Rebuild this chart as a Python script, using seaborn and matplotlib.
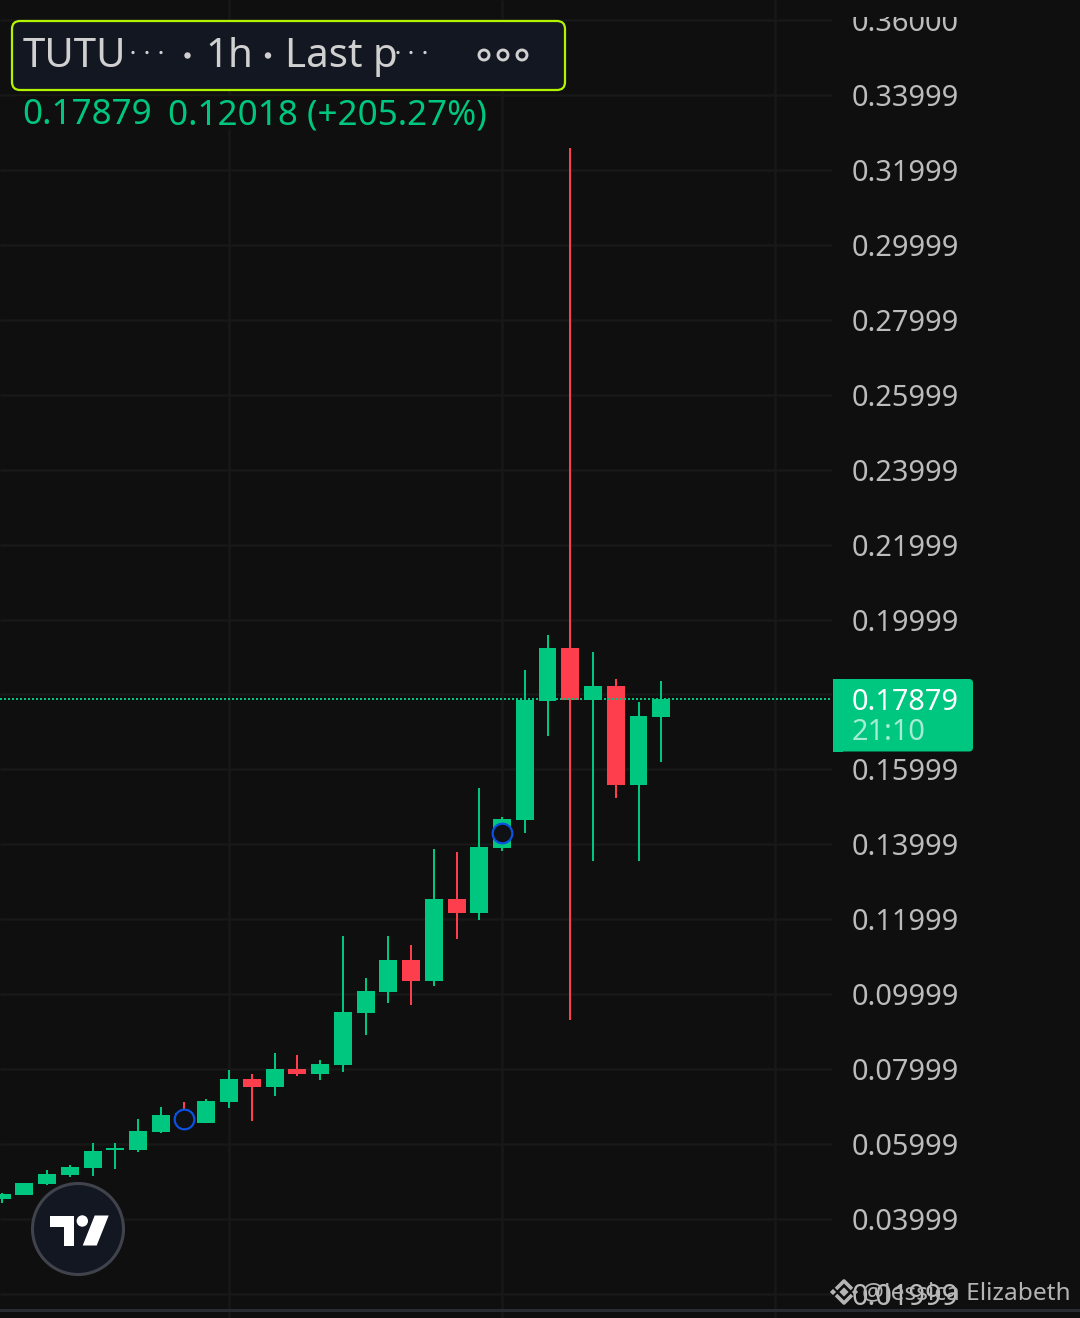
import pandas as pd
import matplotlib.pyplot as plt
import seaborn as sns
from matplotlib.patches import Circle, FancyBboxPatch, Polygon, Rectangle

# Candle values
opens = [0.04533, 0.04640, 0.04933, 0.05173, 0.05360, 0.05841, 0.05841, 0.06321, 0.06828, 0.06561,
         0.07122, 0.07736, 0.07522, 0.08003, 0.07869, 0.08109, 0.09497, 0.10058, 0.10912, 0.10351,
         0.12540, 0.12166, 0.13901, 0.14648, 0.17824, 0.19239, 0.17851, 0.18225, 0.15582, 0.17397]
closes = [0.04666, 0.04960, 0.05200, 0.05387, 0.05814, 0.05894, 0.06348, 0.06775, 0.06508, 0.07148,
          0.07736, 0.07522, 0.08003, 0.07869, 0.08136, 0.09524, 0.10084, 0.10912, 0.10351, 0.12540,
          0.12166, 0.13928, 0.14675, 0.17851, 0.19239, 0.17851, 0.18225, 0.15582, 0.17424, 0.17879]
highs = [0.04693, 0.04960, 0.05307, 0.05440, 0.06027, 0.06027, 0.06668, 0.06988, 0.07122, 0.07202,
         0.07976, 0.07869, 0.08430, 0.08376, 0.08243, 0.11552, 0.10431, 0.11552, 0.11312, 0.13874,
         0.13794, 0.15502, 0.14728, 0.18652, 0.19586, 0.32584, 0.19132, 0.18412, 0.17798, 0.18358]
lows = [0.04426, 0.04640, 0.04906, 0.05120, 0.05147, 0.05334, 0.05787, 0.06294, 0.06500, 0.06561,
        0.06962, 0.06615, 0.07282, 0.07816, 0.07709, 0.07922, 0.08910, 0.09764, 0.09711, 0.10218,
        0.11472, 0.11979, 0.13821, 0.14301, 0.16890, 0.09310, 0.13554, 0.15235, 0.13554, 0.16196]

y_ticks = [0.01999, 0.03999, 0.05999, 0.07999, 0.09999, 0.11999, 0.13999, 0.15999, 0.17999, 0.19999,
           0.21999, 0.23999, 0.25999, 0.27999, 0.29999, 0.31999, 0.33999, 0.36000]
y_labels = ['0.01999', '0.03999', '0.05999', '0.07999', '0.09999', '0.11999', '0.13999', '0.15999', '',
            '0.19999', '0.21999', '0.23999', '0.25999', '0.27999', '0.29999', '0.31999', '0.33999', '0.36000']
x_grid = [10, 22, 34]
marker_idx = [8, 22]
marker_price = [0.06668, 0.14301]
last_price = 0.17879

BG = '#0f0f0f'
GRID = '#181818'
GREEN = '#00c77f'
RED = '#ff3e4d'
TXT = '#bcbcbc'
HEAD = '#d0d0d0'

sns.set_theme(style="dark", rc={'figure.facecolor': BG, 'axes.facecolor': BG})
plt.rcParams['font.family'] = ['Noto Sans', 'DejaVu Sans']

df = pd.DataFrame({'idx': range(len(opens)), 'open': opens, 'close': closes, 'high': highs, 'low': lows})
df['bottom'] = df[['open', 'close']].min(axis=1)
df['height'] = (df['close'] - df['open']).abs()
df['up'] = df['close'] >= df['open']

fig = plt.figure(figsize=(10.8, 13.18), dpi=100)
ax = fig.add_axes([0, 0, 832 / 1080, 1])

for up, color in [(True, GREEN), (False, RED)]:
    sub = df[df['up'] == up]
    ax.vlines(sub['idx'], sub['low'], sub['high'], color=color, lw=1.44, zorder=2)
    # seaborn scales bar width by the smallest gap between positions
    gap = sub['idx'].diff().min()
    sns.barplot(data=sub, x='idx', y='height', bottom=sub['bottom'].values, native_scale=True,
                width=(18 / 22.75) / gap, color=color, saturation=1, errorbar=None,
                linewidth=0, zorder=3, ax=ax)

# 22.75 px per candle, first candle centred at x=1.5 px
ax.set_xlim(-1.5 / 22.75, (832 - 1.5) / 22.75)
ax.set_ylim(0.03999 - 99 / 3746.7, 0.03999 + 1219 / 3746.7)
ax.set_xlabel('')
ax.set_ylabel('')
ax.set_xticks([])

ax.hlines(y_ticks, *ax.get_xlim(), color=GRID, lw=1.8, zorder=1)
ax.vlines(x_grid, *ax.get_ylim(), color=GRID, lw=1.8, zorder=1)
ax.axhline(last_price, color=GREEN, lw=1.44, ls=(0, (1, 1)), zorder=4)

ax.scatter(marker_idx, marker_price, s=200, facecolor='#0f1115', edgecolor='#0a52e0', linewidth=1.6, zorder=5)

ax.yaxis.tick_right()
ax.set_yticks(y_ticks)
ax.set_yticklabels(y_labels, fontsize=20.8, color=TXT)
ax.tick_params(axis='y', length=0, pad=14)
for s in ax.spines.values():
    s.set_visible(False)

# Overlay in pixel coordinates for the header, tag, logo and watermark
ov = fig.add_axes([0, 0, 1, 1], facecolor='none')
ov.set_xlim(0, 1080)
ov.set_ylim(1318, 0)
ov.axis('off')

ov.add_patch(Rectangle((834, 0), 246, 17, color=BG, lw=0))
ov.add_patch(Rectangle((0, 1308.5), 1080, 3, color='#2a2c31', lw=0))

# header box
ov.add_patch(FancyBboxPatch((12, 21), 553, 69, boxstyle='round,pad=0,rounding_size=8',
                            fc='#131722', ec='#b2f400', lw=1.6))
ov.text(23, 57, 'TUTU', fontsize=29, color=HEAD, va='center')
ov.text(205, 57, '1h', fontsize=29, color=HEAD, va='center')
ov.text(285, 57, 'Last p', fontsize=29, color=HEAD, va='center')
for cx in [133, 147, 161, 398, 411, 425]:
    ov.add_patch(Circle((cx, 52.5), 1.6, fc=HEAD, ec='none'))
for cx in [187.5, 268]:
    ov.add_patch(Circle((cx, 55.5), 3.2, fc=HEAD, ec='none'))
for cx in [484, 503, 522]:
    ov.add_patch(Circle((cx, 55), 5, fc='none', ec=HEAD, lw=2.1))

ov.add_patch(Rectangle((15, 96), 485, 34, color=BG, alpha=0.7, lw=0))
ov.text(22, 115, '0.17879', fontsize=25.2, color=GREEN, va='center')
ov.text(168, 115, '0.12018 (+205.27%)', fontsize=25.2, color=GREEN, va='center')

# last price tag
ov.add_patch(FancyBboxPatch((833, 679), 140, 72.5, boxstyle='round,pad=0,rounding_size=4', fc=GREEN, ec='none'))
ov.add_patch(Rectangle((833, 679), 10, 72.5, color=GREEN, lw=0))
ov.text(852, 702, '0.17879', fontsize=20.8, color='white', va='center')
ov.text(852, 733, '21:10', fontsize=20.8, color='#a5ecd2', va='center')

# TradingView badge
ov.add_patch(Circle((78, 1229), 45.5, fc='#131722', ec='#40434b', lw=2.2))
ov.add_patch(Polygon([(50, 1215.5), (74, 1215.5), (74, 1245.5), (64, 1245.5), (64, 1226.5), (50, 1226.5)],
                     fc='white', ec='none'))
ov.add_patch(Circle((82.3, 1221), 5.7, fc='white', ec='none'))
ov.add_patch(Polygon([(94.7, 1215.5), (108.7, 1215.5), (96.7, 1245.5), (82.7, 1245.5)], fc='white', ec='none'))

# Watermark
wm = '#b4b4b4'
ov.plot([836, 844, 852], [1289, 1281, 1289], color=wm, lw=2.6, solid_capstyle='butt')
ov.plot([836, 844, 852], [1295, 1303, 1295], color=wm, lw=2.6, solid_capstyle='butt')
ov.scatter([844, 833, 855], [1292, 1292, 1292], marker='D', s=[22, 10, 10], color=wm, lw=0)
ov.text(862, 1293, '@Jessica Elizabeth', fontsize=17.6, color=wm, va='center')

fig.savefig('out.png', dpi=100, facecolor=BG)
